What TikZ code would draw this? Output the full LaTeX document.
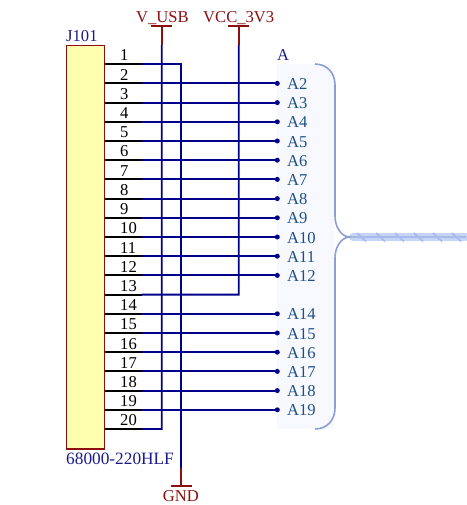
\documentclass[tikz,border=0pt]{standalone}
\usepackage{fontspec}
\setmainfont{Liberation Serif}
\definecolor{wire}{HTML}{00008C}
\definecolor{pow}{HTML}{8B0F0F}
\definecolor{txtnavy}{HTML}{1A1A8C}
\definecolor{txtnet}{HTML}{1F4F88}
\definecolor{boxfill}{HTML}{FFFFB0}
\definecolor{panel}{HTML}{F7F9FE}
\definecolor{brace}{HTML}{8C9FD2}
\definecolor{busfill}{HTML}{C6D4F8}
\definecolor{busline}{HTML}{A8BAEC}
\tikzset{
  wireline/.style={draw=wire,line width=1.9pt},
  stub/.style={draw=black,line width=1.9pt},
  powline/.style={draw=pow,line width=1.7pt},
  txt/.style={inner sep=0pt,anchor=base west,font=\fontsize{16.6}{18}\selectfont},
  designator/.style={txt,text=txtnavy},
  pinnum/.style={txt,text=black},
  netlab/.style={txt,text=txtnet},
  powlab/.style={txt,text=pow},
  netdot/.style={circle,fill=wire,inner sep=0pt,minimum size=5pt},
  busedge/.style={draw=brace,line width=1.6pt},
  tick/.style={draw=busline,line width=1.6pt}
}
\begin{document}
\begin{tikzpicture}[x=1pt,y=-1pt]
\useasboundingbox (0,0) rectangle (466,505);
% panel and bus
\fill[panel] (277,64) rectangle (334,429);
\draw[line width=8pt,draw=busfill,line cap=round] (353,237) -- (466,237);
\draw[line width=1.6pt,draw=busline] (353,237) -- (466,237);
\foreach \k in {0,...,5}{
  \draw[tick] ({357+19*\k},233) -- ({366+19*\k},241.5);
}
\coordinate (bracetop) at (315,64);
\coordinate (bracetip) at (350,237);
\coordinate (bracebot) at (315,429);
\draw[busedge] (bracetop) .. controls (327,64) and (335,73) .. (335,85) -- (335,216)
   .. controls (335,228) and (342,237) .. (bracetip)
   .. controls (342,237) and (335,246) .. (335,258) -- (335,408)
   .. controls (335,420) and (327,429) .. (bracebot);
% connector body
\node[draw=pow,fill=boxfill,line width=1.2pt,minimum width=38pt,minimum height=403pt,inner sep=0pt,anchor=north west] (J) at (66,45.3) {};
\node[designator] (jname) at (66,42) {J101};
\node[designator,font=\fontsize{17.3}{18}\selectfont] (jval) at (66,464) {68000-220HLF};
\node[designator] (busname) at (277,61) {A};
% power symbols
\node[powlab] (vusb) at (136,23) {V\_USB};
\node[powlab] (vcc) at (203,23) {VCC\_3V3};
\node[powlab] (gnd) at (162.7,501.5) {GND};
\coordinate (vusbbar) at (161.7,26);
\coordinate (vccbar) at (238.7,26);
\coordinate (gndbar) at (181,486);
\coordinate (vusbj) at (161.7,45);
\coordinate (vccj) at (238.7,45);
\coordinate (gndj) at (181,468);
\draw[powline] ([xshift=-10.5pt]vusbbar) -- ([xshift=10.5pt]vusbbar);
\draw[powline] ([xshift=-10.5pt]vccbar) -- ([xshift=10.5pt]vccbar);
\draw[powline] ([xshift=-10.5pt]gndbar) -- ([xshift=10.5pt]gndbar);
\draw[powline] (vusbbar) -- (vusbj);
\draw[powline] (vccbar) -- (vccj);
\draw[powline] (gndbar) -- (gndj);
% pins
\foreach \n in {1,...,20}{
  \pgfmathsetmacro{\yy}{64.2+19.2*(\n-1)}
  \coordinate (p\n) at (104.5,\yy);
  \coordinate (s\n) at (142,\yy);
  \draw[stub] (p\n) -- (s\n);
  \node[pinnum] (num\n) at (120,\yy-3.2) {\n};
}
% signal pins to net dots
\foreach \n in {2,...,12,14,15,...,19}{
  \pgfmathsetmacro{\yy}{64.2+19.2*(\n-1)}
  \node[netdot] (d\n) at (277.3,\yy) {};
  \node[netlab] (a\n) at (287,\yy+6) {A\n};
  \draw[wireline] (s\n) -- (d\n);
}
% power wires
\coordinate (c1) at (181,64.2);
\coordinate (c13) at (238.7,294.6);
\coordinate (c20) at (161.7,429);
\draw[wireline] (s1) -- (c1) -- (gndj);
\draw[wireline] (s13) -- (c13) -- (vccj);
\draw[wireline] (s20) -- (c20) -- (vusbj);
\end{tikzpicture}
\end{document}
